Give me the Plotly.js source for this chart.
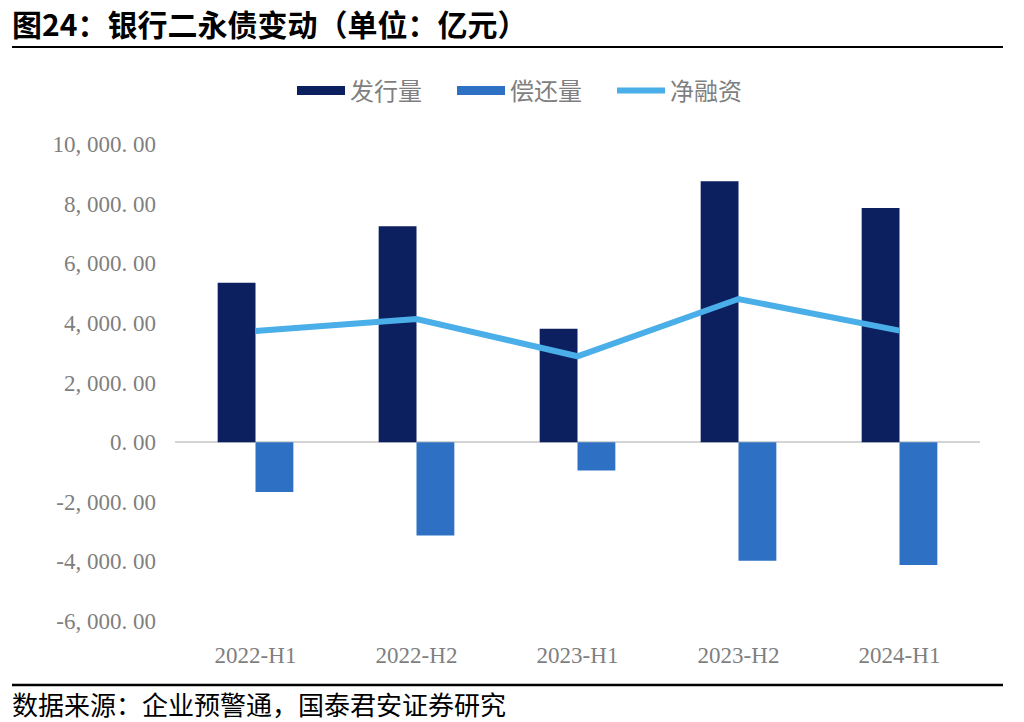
<!DOCTYPE html>
<html>
<head>
<meta charset="utf-8">
<script src="https://cdn.plot.ly/plotly-3.0.1.min.js"></script>
<style>html,body{margin:0;padding:0;background:#fff;}#chart{width:1024px;height:722px;}</style>
</head>
<body>
<div id="chart"></div>
<script>
const categories = ['2022-H1', '2022-H2', '2023-H1', '2023-H2', '2024-H1'];
const issuance = [5350, 7240, 3800, 8750, 7850];
const repayment = [-1670, -3130, -950, -3980, -4120];
const netFinancing = [3730, 4130, 2880, 4800, 3740];
const seriesNames = ['发行量', '偿还量', '净融资'];
const yTickVals = [-6000, -4000, -2000, 0, 2000, 4000, 6000, 8000, 10000];
const yTickText = ['-6, 000. 00', '-4, 000. 00', '-2, 000. 00', '0. 00', '2, 000. 00', '4, 000. 00', '6, 000. 00', '8, 000. 00', '10, 000. 00'];
const titleText = '图24：银行二永债变动（单位：亿元）';
const sourceText = '数据来源：企业预警通，国泰君安证券研究';

const cDark = '#0c1f5f';
const cMid = '#2e70c3';
const cLight = '#4aaee9';
const tickFont = {family: '"Liberation Serif", "Times New Roman", serif', size: 23, color: '#7f7f7f'};

const traces = [
  {type: 'bar', x: categories, y: issuance, name: seriesNames[0], marker: {color: cDark}, showlegend: false, hoverinfo: 'skip'},
  {type: 'bar', x: categories, y: repayment, name: seriesNames[1], marker: {color: cMid}, showlegend: false, hoverinfo: 'skip'},
  {type: 'scatter', mode: 'lines', x: categories, y: netFinancing, name: seriesNames[2], line: {color: cLight, width: 6}, showlegend: false, hoverinfo: 'skip'},
  {type: 'scatter', mode: 'lines', x: [null], y: [null], name: seriesNames[0], line: {color: cDark, width: 9}},
  {type: 'scatter', mode: 'lines', x: [null], y: [null], name: seriesNames[1], line: {color: cMid, width: 9}},
  {type: 'scatter', mode: 'lines', x: [null], y: [null], name: seriesNames[2], line: {color: cLight, width: 6}}
];

const L = 175, R = 980, T = 144, B = 621;
const pw = R - L, ph = B - T;
const px = v => (v - L) / pw;
const py = v => (B - v) / ph;

const layout = {
  width: 1024, height: 722,
  margin: {l: L, r: 1024 - R, t: T, b: 722 - B, pad: 0},
  paper_bgcolor: '#ffffff', plot_bgcolor: '#ffffff',
  barmode: 'group', bargap: 0.53, bargroupgap: 0,
  font: {family: '"Noto Sans CJK SC", sans-serif'},
  title: {
    text: '<b>' + titleText + '</b>',
    xref: 'container', yref: 'container',
    x: 12 / 1024, xanchor: 'left', y: 1 - 25 / 722, yanchor: 'middle',
    font: {family: '"Noto Sans CJK SC", sans-serif', size: 30, color: '#000000'}
  },
  xaxis: {
    type: 'category', showgrid: false, zeroline: false, showline: false,
    ticks: '', tickfont: tickFont, ticklabelstandoff: 18, fixedrange: true
  },
  yaxis: {
    range: [-6000, 10000], tickmode: 'array', tickvals: yTickVals, ticktext: yTickText,
    showgrid: false, zeroline: true, zerolinecolor: '#d4d4d4', zerolinewidth: 2,
    showline: false, ticks: '', tickfont: tickFont, ticklabelstandoff: 18, fixedrange: true
  },
  legend: {
    orientation: 'h', x: px(292), xanchor: 'left', y: py(91), yanchor: 'middle',
    font: {family: '"Noto Sans CJK SC", sans-serif', size: 24, color: '#7f7f7f'},
    itemwidth: 48, entrywidth: 97, entrywidthmode: 'pixels',
    bgcolor: 'rgba(0,0,0,0)', traceorder: 'normal'
  },
  shapes: [
    {type: 'line', xref: 'paper', yref: 'paper', x0: px(12), x1: px(1003), y0: py(47), y1: py(47), line: {color: '#000', width: 2}},
    {type: 'line', xref: 'paper', yref: 'paper', x0: px(12), x1: px(1003), y0: py(685), y1: py(685), line: {color: '#000', width: 2.5}}
  ],
  annotations: [
    {text: sourceText, xref: 'paper', yref: 'paper', x: px(10), xanchor: 'left', y: py(703), yanchor: 'middle',
     showarrow: false, font: {family: '"Noto Sans CJK SC", sans-serif', size: 26, color: '#000'}}
  ]
};

Plotly.newPlot('chart', traces, layout, {staticPlot: true, displayModeBar: false});
</script>
</body>
</html>
